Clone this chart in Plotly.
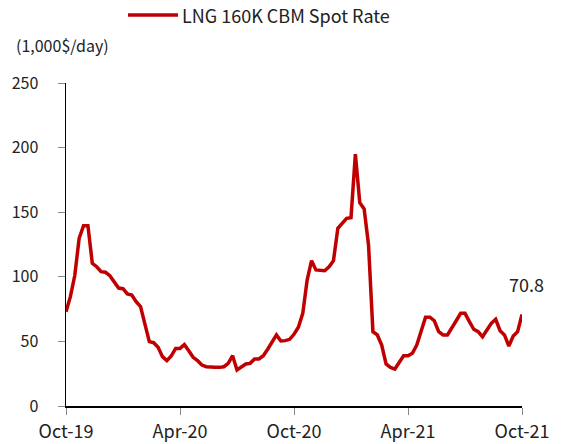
import plotly.graph_objects as go

values = [73, 84.6, 101, 129.8, 139.6, 139.6, 110.4, 107.8, 104, 103.5,
          100.9, 96.2, 91.3, 90.8, 86.7, 85.9, 80.7, 76.9, 64, 49.8,
          49, 45.4, 38.2, 35.1, 38.7, 44.6, 44.6, 47.5, 42.8, 37.7,
          35.1, 31.7, 30.4, 29.9, 29.9, 29.9, 30.4, 33, 38.9, 27.9,
          30.4, 32.5, 33, 36.4, 36.4, 38.9, 43.9, 49.3, 55, 50.3,
          50.6, 51.6, 55.5, 61, 71.7, 97.5, 112.5, 105.3, 104.7, 104.7,
          107.8, 112.5, 137.5, 141.9, 145.3, 145.8, 195, 157.4, 152.5, 124.6,
          57.5, 55, 47.2, 32.5, 29.9, 28.6, 33.5, 38.9, 38.9, 40.8,
          47.2, 57.5, 68.7, 68.7, 66, 57.5, 55, 55, 60.1, 66,
          71.7, 71.7, 65.3, 59.4, 57.5, 53.6, 58.8, 64, 67.1, 58.3,
          55, 46.4, 54.2, 57.5, 70.8]
weeks = list(range(len(values)))
tick_pos = [0, 26, 52, 78, 104]
tick_labels = ["Oct-19", "Apr-20", "Oct-20", "Apr-21", "Oct-21"]
y_ticks = [0, 50, 100, 150, 200, 250]
series_name = "LNG 160K CBM Spot Rate"
unit_label = "(1,000$/day)"
last_label = "70.8"

FONT = "Noto Sans CJK KR"
TXT = "#222222"
LINE_COLOR = "#C00000"
W, H = 561, 444
ML, MT = 66, 83
PW, PH = 456, 323
MR, MB = W - ML - PW, H - MT - PH


def px_x(sx):
    """screen x -> paper x"""
    return (sx - ML) / PW


def px_y(sy):
    """screen y -> paper y"""
    return (MT + PH - sy) / PH


fig = go.Figure()
fig.add_trace(go.Scatter(
    x=weeks, y=values, mode="lines", name=series_name, showlegend=False,
    line=dict(color=LINE_COLOR, width=3.5),
))

# value label at the last point
fig.add_annotation(x=weeks[-1], y=values[-1], text=last_label, showarrow=False,
                   xanchor="center", yanchor="bottom", yshift=16, xshift=4,
                   font=dict(family=FONT, size=18, color=TXT))
# unit label
fig.add_annotation(text=unit_label, showarrow=False, xref="paper", yref="paper",
                   x=px_x(14), y=px_y(45), xanchor="left", yanchor="middle",
                   font=dict(family=FONT, size=16, color=TXT))
# legend (drawn manually to match the long legend line)
fig.add_shape(type="line", xref="paper", yref="paper",
              x0=px_x(128), x1=px_x(178), y0=px_y(15), y1=px_y(15),
              line=dict(color=LINE_COLOR, width=3.5))
fig.add_annotation(text=series_name, showarrow=False, xref="paper", yref="paper",
                   x=px_x(180), y=px_y(15), xanchor="left", yanchor="middle",
                   font=dict(family=FONT, size=18, color=TXT))

fig.update_layout(
    width=W, height=H,
    margin=dict(l=ML, r=MR, t=MT, b=MB, autoexpand=False),
    paper_bgcolor="white", plot_bgcolor="white",
    font=dict(family=FONT, size=16, color=TXT),
    showlegend=False,
    xaxis=dict(range=[0, 104], tickvals=tick_pos, ticktext=tick_labels,
               showgrid=False, zeroline=False, showline=True, linecolor="black",
               linewidth=1.5, ticks="outside", tickcolor="#888888", ticklen=7,
               tickfont=dict(size=18), ticklabelstandoff=2, automargin=False),
    yaxis=dict(range=[0, 250], tickvals=y_ticks, showgrid=False, zeroline=False,
               showline=True, linecolor="black", linewidth=1.5, ticks="outside",
               tickcolor="#888888", ticklen=7, tickfont=dict(size=16),
               ticklabelstandoff=16, automargin=False),
)

# remove the browser's default 8px page margin so the figure fills the window
fig.write_html("out.html", config={"displayModeBar": False, "staticPlot": True},
               post_script="document.body.style.margin='0px';")
